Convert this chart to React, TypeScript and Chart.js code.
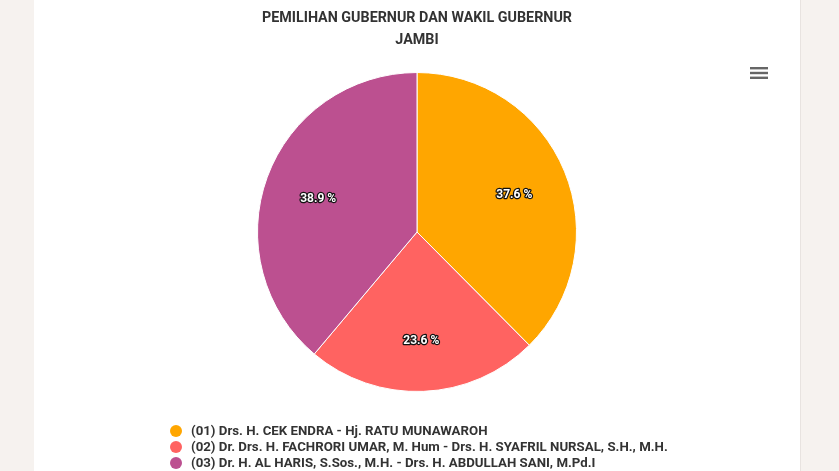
import React, { useEffect, useRef } from "react";
import { Chart, registerables } from "chart.js";

Chart.register(...registerables);

const titleLines = ["PEMILIHAN GUBERNUR DAN WAKIL GUBERNUR", "JAMBI"];
const candidates = [
  "(01) Drs. H. CEK ENDRA - Hj. RATU MUNAWAROH",
  "(02) Dr. Drs. H. FACHRORI UMAR, M. Hum - Drs. H. SYAFRIL NURSAL, S.H., M.H.",
  "(03) Dr. H. AL HARIS, S.Sos., M.H. - Drs. H. ABDULLAH SANI, M.Pd.I",
];
const shares = [37.6, 23.6, 38.9];
const colors = ["#ffa600", "#ff6361", "#bc5090"];

const FONT = "Roboto, 'Noto Sans', sans-serif";

const overlayPlugin = {
  id: "overlay",
  afterDatasetsDraw(chart: any) {
    const ctx = chart.ctx;
    const meta = chart.getDatasetMeta(0);
    ctx.save();
    // data labels
    ctx.font = `bold 12px ${FONT}`;
    ctx.textAlign = "center";
    ctx.textBaseline = "middle";
    ctx.lineJoin = "round";
    meta.data.forEach((arc: any, i: number) => {
      const p = arc.getProps(["x", "y", "startAngle", "endAngle", "outerRadius"], true);
      const mid = (p.startAngle + p.endAngle) / 2;
      const r = p.outerRadius * 0.66;
      const x = p.x + Math.cos(mid) * r;
      const y = p.y + Math.sin(mid) * r + 3.5;
      const txt = shares[i].toFixed(1) + " %";
      ctx.strokeStyle = "#111";
      ctx.lineWidth = 2.5;
      ctx.strokeText(txt, x, y);
      ctx.fillStyle = "#fff";
      ctx.fillText(txt, x, y);
    });
    // legend
    ctx.textAlign = "left";
    ctx.textBaseline = "middle";
    ctx.font = `bold 13.25px ${FONT}`;
    candidates.forEach((c, i) => {
      const y = 431 + i * 16;
      ctx.beginPath();
      ctx.fillStyle = colors[i];
      ctx.arc(142, y, 6, 0, Math.PI * 2);
      ctx.fill();
      ctx.fillStyle = "#333333";
      ctx.fillText(c, 157, y + 0.5);
    });
    // menu icon
    ctx.fillStyle = "#666666";
    [67, 71.8, 76.6].forEach((y) => {
      ctx.fillRect(716, y, 18, 2.4);
    });
    ctx.restore();
  },
};

export default function App() {
  const ref = useRef<HTMLCanvasElement>(null);
  useEffect(() => {
    document.body.style.margin = "0";
    const chart = new Chart(ref.current as HTMLCanvasElement, {
      type: "pie",
      data: {
        labels: candidates,
        datasets: [
          {
            data: shares,
            backgroundColor: colors,
            borderColor: "#ffffff",
            borderWidth: 1,
          },
        ],
      },
      options: {
        animation: false,
        responsive: false,
        maintainAspectRatio: false,
        layout: { padding: { top: 0, bottom: 79, left: 0, right: 0 } },
        plugins: {
          legend: { display: false },
          tooltip: { enabled: false },
          title: {
            display: true,
            text: titleLines,
            color: "#333333",
            font: { family: FONT, size: 14.3, weight: "bold", lineHeight: 1.55 },
            padding: { top: 7, bottom: 20.7 },
          },
        },
      },
      plugins: [overlayPlugin],
    });
    return () => chart.destroy();
  }, []);
  return (
    <div
      style={{
        position: "absolute",
        left: 0,
        top: 0,
        width: 839,
        height: 471,
        background: "#f6f2ef",
        overflow: "hidden",
      }}
    >
      <div
        style={{
          position: "absolute",
          left: 34,
          top: 0,
          width: 766,
          height: 471,
          background: "#ffffff",
          borderRight: "1px solid #e8e3e0",
        }}
      >
        <canvas ref={ref} width={766} height={471} style={{ display: "block" }} />
      </div>
    </div>
  );
}
